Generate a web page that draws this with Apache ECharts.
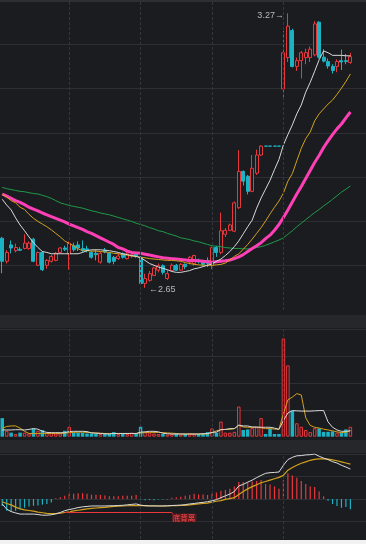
<!DOCTYPE html>
<html><head><meta charset="utf-8">
<script src="https://cdn.jsdelivr.net/npm/echarts@6/dist/echarts.min.js"></script>
<style>html,body{margin:0;padding:0;background:#1b1c20;}#c{width:366px;height:544px;}</style>
</head><body><div id="c"></div>
<script>
// ---------- data ----------
const days = ['1','2','3','4','5','6','7','8','9','10','11','12','13','14','15','16','17','18','19','20',
'21','22','23','24','25','26','27','28','29','30','31','32','33','34','35','36','37','38','39','40',
'41','42','43','44','45','46','47','48','49','50','51','52','53','54','55','56','57','58','59','60',
'61','62','63','64','65','66','67','68','69','70','71','72','73','74','75','76','77','78','79'];
// [open, close, low, high]
const ohlc = [
[2.762,2.710,2.683,2.765],[2.710,2.730,2.705,2.735],[2.747,2.740,2.728,2.757],[2.734,2.741,2.730,2.750],
[2.737,2.735,2.733,2.742],[2.739,2.751,2.737,2.771],[2.739,2.751,2.736,2.755],[2.760,2.710,2.708,2.763],
[2.701,2.730,2.699,2.732],[2.730,2.691,2.688,2.733],[2.701,2.712,2.693,2.715],[2.710,2.721,2.707,2.725],
[2.712,2.728,2.710,2.731],[2.730,2.740,2.728,2.742],[2.740,2.737,2.733,2.745],[2.727,2.751,2.691,2.755],
[2.745,2.736,2.732,2.752],[2.747,2.740,2.733,2.755],[2.739,2.735,2.730,2.757],[2.738,2.735,2.730,2.745],
[2.730,2.719,2.716,2.733],[2.728,2.725,2.712,2.735],[2.708,2.728,2.705,2.732],[2.735,2.731,2.728,2.740],
[2.728,2.708,2.705,2.731],[2.719,2.710,2.703,2.722],[2.716,2.722,2.713,2.728],[2.727,2.719,2.716,2.730],
[2.716,2.727,2.714,2.738],[2.722,2.725,2.718,2.730],[2.726,2.722,2.718,2.728],[2.719,2.660,2.657,2.722],
[2.660,2.671,2.650,2.682],[2.667,2.682,2.664,2.688],[2.678,2.695,2.677,2.698],[2.690,2.700,2.685,2.705],
[2.700,2.685,2.680,2.703],[2.671,2.682,2.668,2.690],[2.689,2.701,2.686,2.705],[2.701,2.690,2.688,2.704],
[2.690,2.703,2.688,2.706],[2.703,2.698,2.692,2.705],[2.708,2.719,2.703,2.722],[2.705,2.723,2.700,2.725],
[2.712,2.709,2.705,2.716],[2.708,2.703,2.700,2.710],[2.712,2.705,2.697,2.719],[2.700,2.741,2.692,2.743],
[2.741,2.730,2.720,2.745],[2.730,2.779,2.726,2.820],[2.771,2.780,2.765,2.785],[2.780,2.792,2.778,2.795],
[2.778,2.842,2.776,2.845],[2.831,2.913,2.828,2.961],[2.913,2.891,2.881,2.915],[2.902,2.868,2.861,2.905],
[2.868,2.920,2.866,2.950],[2.909,2.950,2.905,2.962],[2.950,2.970,2.948,2.972],[2.970,2.970,2.970,2.970],
[2.970,2.970,2.970,2.970],[2.970,2.970,2.970,2.970],[2.970,2.970,2.970,2.970],[3.099,3.181,3.080,3.230],
[3.170,3.241,3.160,3.270],[3.231,3.150,3.148,3.235],[3.150,3.163,3.140,3.170],[3.163,3.181,3.123,3.185],
[3.170,3.181,3.155,3.190],[3.170,3.189,3.160,3.195],[3.176,3.246,3.173,3.252],[3.250,3.171,3.168,3.252],
[3.171,3.162,3.159,3.189],[3.161,3.151,3.145,3.168],[3.150,3.141,3.134,3.155],[3.150,3.161,3.137,3.166],
[3.163,3.160,3.142,3.188],[3.163,3.161,3.155,3.178],[3.159,3.172,3.156,3.181]];
const ma5 = [2.850,2.837,2.826,2.808,2.792,2.779,2.765,2.752,2.741,2.732,2.730,2.727,2.727,2.727,2.727,2.727,
2.727,2.727,2.730,2.734,2.736,2.736,2.736,2.735,2.734,2.732,2.730,2.727,2.725,2.723,2.721,2.718,2.712,2.705,
2.701,2.697,2.694,2.691,2.687,2.685,2.685,2.687,2.689,2.693,2.695,2.698,2.701,2.704,2.710,2.715,2.723,2.732,
2.743,2.756,2.772,2.788,2.803,2.830,2.853,2.873,2.893,2.917,2.940,2.973,2.996,3.018,3.043,3.063,3.092,3.114,
3.139,3.165,3.185,3.181,3.175,3.175,3.175,3.174,3.174];
const ma10 = [2.861,2.855,2.847,2.842,2.832,2.827,2.816,2.807,2.800,2.794,2.788,2.781,2.773,2.765,2.756,2.750,
2.745,2.738,2.734,2.734,2.733,2.733,2.732,2.731,2.730,2.728,2.727,2.725,2.724,2.722,2.721,2.719,2.718,2.716,
2.715,2.714,2.713,2.712,2.712,2.711,2.710,2.707,2.705,2.703,2.702,2.701,2.701,2.701,2.702,2.703,2.706,2.713,
2.721,2.727,2.737,2.748,2.760,2.773,2.786,2.801,2.817,2.832,2.846,2.864,2.891,2.908,2.937,2.965,2.987,3.002,
3.027,3.043,3.054,3.065,3.074,3.087,3.101,3.116,3.133];
const ma20 = [2.862,2.857,2.852,2.847,2.843,2.838,2.832,2.828,2.824,2.819,2.815,2.811,2.807,2.803,2.799,2.794,
2.790,2.786,2.782,2.777,2.773,2.768,2.763,2.758,2.753,2.748,2.741,2.738,2.733,2.730,2.729,2.728,2.726,2.724,
2.722,2.720,2.718,2.717,2.716,2.715,2.714,2.713,2.712,2.712,2.711,2.710,2.709,2.708,2.709,2.710,2.711,2.713,
2.716,2.720,2.725,2.732,2.739,2.745,2.752,2.761,2.769,2.780,2.793,2.809,2.826,2.844,2.862,2.879,2.897,2.915,
2.933,2.949,2.967,2.982,2.996,3.009,3.020,3.034,3.047];
const ma60 = [2.877,2.874,2.872,2.870,2.868,2.867,2.865,2.863,2.862,2.859,2.856,2.852,2.847,2.842,2.839,2.836,
2.834,2.832,2.830,2.827,2.824,2.822,2.819,2.817,2.815,2.812,2.809,2.806,2.803,2.800,2.796,2.793,2.790,2.786,
2.783,2.779,2.777,2.773,2.770,2.767,2.763,2.761,2.759,2.756,2.754,2.751,2.748,2.745,2.744,2.743,2.741,2.740,
2.739,2.739,2.738,2.738,2.739,2.741,2.743,2.746,2.750,2.754,2.758,2.763,2.771,2.779,2.788,2.796,2.804,2.812,
2.820,2.827,2.835,2.842,2.850,2.858,2.866,2.873,2.880];
const volume = [0.69,0.22,0.15,0.10,0.15,0.15,0.12,0.31,0.22,0.25,0.15,0.15,0.12,0.12,0.22,0.37,0.15,0.15,0.15,0.12,
0.12,0.10,0.10,0.10,0.10,0.17,0.10,0.10,0.10,0.15,0.10,0.37,0.18,0.15,0.12,0.10,0.10,0.08,0.10,0.10,
0.08,0.10,0.12,0.10,0.10,0.12,0.17,0.31,0.15,0.56,0.15,0.15,0.18,1.12,0.25,0.27,0.32,0.35,0.69,0.10,
0.29,0.10,0.10,3.65,2.65,0.96,0.50,0.37,0.25,0.17,0.32,0.31,0.18,0.18,0.20,0.15,0.15,0.27,0.37];
const volMa5 = [0.25,0.25,0.25,0.26,0.26,0.25,0.27,0.30,0.28,0.20,0.16,0.15,0.15,0.15,0.15,0.19,0.20,0.20,0.20,0.19,
0.14,0.13,0.12,0.11,0.10,0.12,0.12,0.12,0.12,0.12,0.12,0.17,0.18,0.20,0.20,0.18,0.13,0.11,0.10,0.10,
0.10,0.10,0.10,0.10,0.10,0.11,0.12,0.16,0.17,0.26,0.27,0.30,0.30,0.43,0.40,0.40,0.36,0.36,0.35,0.35,
0.35,0.32,0.27,0.60,0.88,0.97,0.96,0.95,0.95,0.95,0.96,0.97,0.97,0.55,0.35,0.25,0.20,0.20,0.22];
const volMa10 = [0.31,0.38,0.40,0.40,0.32,0.20,0.12,0.12,0.12,0.12,0.12,0.12,0.12,0.12,0.13,0.15,0.16,0.17,0.17,0.16,
0.15,0.14,0.13,0.12,0.12,0.12,0.12,0.12,0.12,0.12,0.12,0.14,0.15,0.16,0.16,0.16,0.15,0.14,0.13,0.12,
0.10,0.10,0.10,0.10,0.10,0.10,0.10,0.15,0.22,0.26,0.27,0.27,0.30,0.42,0.36,0.35,0.35,0.35,0.33,0.30,
0.30,0.28,0.28,0.85,1.37,1.47,1.60,1.55,0.70,0.42,0.35,0.32,0.28,0.25,0.22,0.18,0.15,0.17,0.22];
const dif = [-0.22,-0.45,-0.56,-0.62,-0.67,-0.67,-0.67,-0.67,-0.69,-0.72,-0.72,-0.70,-0.66,-0.60,-0.52,-0.47,
-0.43,-0.38,-0.35,-0.33,-0.31,-0.31,-0.31,-0.31,-0.30,-0.30,-0.29,-0.28,-0.26,-0.24,-0.22,-0.27,-0.30,-0.31,
-0.31,-0.31,-0.31,-0.30,-0.29,-0.28,-0.27,-0.25,-0.22,-0.20,-0.17,-0.15,-0.12,-0.08,-0.03,0.06,0.14,0.22,
0.33,0.58,0.65,0.75,0.84,0.95,1.05,1.14,1.17,1.18,1.20,1.50,1.75,1.85,1.92,1.93,1.96,1.97,2.00,1.90,1.82,
1.75,1.66,1.60,1.50,1.42,1.33];
const dea = [-0.12,-0.20,-0.26,-0.36,-0.44,-0.48,-0.51,-0.54,-0.58,-0.61,-0.64,-0.65,-0.65,-0.63,-0.60,-0.57,
-0.53,-0.50,-0.47,-0.44,-0.42,-0.40,-0.38,-0.37,-0.35,-0.33,-0.32,-0.31,-0.30,-0.29,-0.29,-0.29,-0.29,-0.30,
-0.30,-0.31,-0.31,-0.31,-0.30,-0.30,-0.29,-0.28,-0.26,-0.24,-0.22,-0.20,-0.18,-0.14,-0.10,-0.07,-0.02,0.02,
0.06,0.20,0.33,0.45,0.55,0.63,0.72,0.78,0.84,0.90,0.96,1.05,1.28,1.40,1.50,1.59,1.65,1.72,1.76,1.78,1.78,
1.77,1.74,1.70,1.65,1.60,1.55];
const macdHist = [-0.31,-0.52,-0.56,-0.52,-0.44,-0.39,-0.33,-0.30,-0.29,-0.25,-0.22,-0.15,0.03,0.08,0.15,0.23,
0.23,0.26,0.26,0.23,0.19,0.19,0.18,0.16,0.12,0.12,0.12,0.15,0.15,0.15,0.18,-0.02,-0.05,-0.05,-0.05,-0.02,
-0.02,-0.02,0.06,0.08,0.10,0.15,0.18,0.23,0.20,0.20,0.18,0.23,0.29,0.37,0.40,0.46,0.56,0.76,0.76,0.73,0.78,
0.80,0.84,0.67,0.64,0.56,0.46,0.84,1.14,1.05,0.94,0.80,0.67,0.56,0.53,0.33,0.12,-0.08,-0.22,-0.31,-0.39,-0.35,-0.45];
const monthStarts = [15, 31, 47, 63];
const divergence = { from: 14, to: 38, level: -0.61, drop: -0.78, labelAt: -0.84, text: '底背离' };

// ---------- style ----------
const BG = '#1b1c20', RED = '#e8383c', CYAN = '#1bb3c4', GRID = '#2e2f34', DASH = '#35363c', BAND = '#26272b';
const LEFT = -0.75, WIDTH = 369;
const axisCats = days.concat(['', '', '']);

const candleData = ohlc.map(d => {
  const flat = d[0] === d[1] && d[2] === d[3];
  return flat ? { value: d, itemStyle: { color: CYAN, color0: CYAN, borderColor: CYAN, borderColor0: CYAN } } : d;
});
const isUp = ohlc.map(d => d[1] > d[0]);
const volData = volume.map((v, i) => ({
  value: v,
  itemStyle: isUp[i] ? { color: BG, borderColor: RED, borderWidth: 1 } : { color: CYAN, borderColor: CYAN, borderWidth: 0 }
}));
const histData = macdHist.map(v => ({ value: v, itemStyle: { color: v >= 0 ? RED : CYAN } }));

let hiIdx = 0, loIdx = 0;
ohlc.forEach((d, i) => { if (d[3] > ohlc[hiIdx][3]) hiIdx = i; if (d[2] < ohlc[loIdx][2]) loIdx = i; });

const vLines = () => ({
  silent: true, symbol: ['none', 'none'], label: { show: false },
  lineStyle: { color: DASH, type: [3, 2], width: 1 },
  data: monthStarts.map(i => ({ xAxis: i }))
});
const lineS = (data, color, width, xi) => ({
  type: 'line', data, xAxisIndex: xi, yAxisIndex: xi, symbol: 'none', silent: true,
  lineStyle: { color, width }, z: 3
});
const xAx = (gi) => ({
  type: 'category', gridIndex: gi, data: axisCats, boundaryGap: true,
  axisLine: { show: false }, axisTick: { show: false }, axisLabel: { show: false }, splitLine: { show: false }
});
const yAx = (gi, min, max, interval) => ({
  type: 'value', gridIndex: gi, min, max, interval,
  axisLine: { show: false }, axisTick: { show: false }, axisLabel: { show: false },
  splitLine: { show: true, showMinLine: false, lineStyle: { color: GRID, width: 1 } }
});

const chart = echarts.init(document.getElementById('c'), null, { renderer: 'canvas' });
chart.setOption({
  backgroundColor: BG,
  animation: false,
  grid: [
    { left: LEFT, width: WIDTH, top: -3.2, height: 313.2 },
    { left: LEFT, width: WIDTH, top: 329, height: 107.7 },
    { left: LEFT, width: WIDTH, top: 454, height: 98 }
  ],
  xAxis: [xAx(0), xAx(1), xAx(2)],
  yAxis: [yAx(0, 2.6, 3.3, 0.1), yAx(1, 0, 4, 1), yAx(2, -2, 2, 1)],
  graphic: [
    { type: 'rect', shape: { x: 0, y: 315, width: 366, height: 13 }, style: { fill: BAND }, silent: true, z: -1 },
    { type: 'rect', shape: { x: 0, y: 440, width: 366, height: 13 }, style: { fill: BAND }, silent: true, z: -1 },
    { type: 'line', shape: { x1: 0, y1: 1.5, x2: 366, y2: 1.5 }, style: { stroke: GRID, lineWidth: 1 }, silent: true },
    { type: 'rect', shape: { x: 0, y: 540, width: 366, height: 4 }, style: { fill: '#f2f2f2' }, silent: true, z: 100 }
  ],
  series: [
    {
      type: 'candlestick', data: candleData, xAxisIndex: 0, yAxisIndex: 0, barWidth: 3.5, silent: true, z: 2,
      itemStyle: { color: BG, color0: CYAN, borderColor: RED, borderColor0: CYAN, borderWidth: 1 },
      markLine: vLines(),
      markPoint: {
        silent: true, symbol: 'circle', symbolSize: 0,
        data: [
          { coord: [hiIdx, ohlc[hiIdx][3]], label: { show: true, position: 'left', distance: 4, offset: [0, 2],
            formatter: ohlc[hiIdx][3].toFixed(2) + '→', color: '#b8b8bc', fontSize: 9, fontFamily: 'Liberation Sans, DejaVu Sans' } },
          { coord: [loIdx, ohlc[loIdx][2]], label: { show: true, position: 'right', distance: 4, offset: [0, 2],
            formatter: '←' + ohlc[loIdx][2].toFixed(2), color: '#b8b8bc', fontSize: 9, fontFamily: 'Liberation Sans, DejaVu Sans' } }
        ]
      }
    },
    lineS(ma60, '#1f9a48', 1, 0),
    lineS(ma20, '#ff3fb6', 3, 0),
    lineS(ma10, '#d2a11c', 1, 0),
    lineS(ma5, '#d8d8d8', 1, 0),
    { type: 'bar', data: volData, xAxisIndex: 1, yAxisIndex: 1, barWidth: 3.5, silent: true, markLine: vLines() },
    lineS(volMa10, '#d2a11c', 1, 1),
    lineS(volMa5, '#d8d8d8', 1, 1),
    { type: 'bar', data: histData, xAxisIndex: 2, yAxisIndex: 2, barWidth: 1.2, silent: true, markLine: vLines() },
    lineS(dea, '#d2a11c', 1.2, 2),
    Object.assign(lineS(dif, '#dcdcdc', 1, 2), {
      markLine: {
        silent: true, symbol: ['none', 'none'], label: { show: false },
        lineStyle: { color: RED, type: 'solid', width: 1 },
        data: [
          [{ coord: [divergence.from, divergence.level] }, { coord: [divergence.to, divergence.level] }],
          [{ coord: [divergence.to, divergence.level] }, { coord: [divergence.to, divergence.drop] }]
        ]
      },
      markPoint: {
        silent: true, symbol: 'circle', symbolSize: 0,
        data: [{ coord: [divergence.to, divergence.labelAt],
          label: { show: true, position: 'right', distance: 0, formatter: divergence.text,
            color: '#ff4a4a', backgroundColor: '#5a1c20', padding: [1, 1, 0, 1],
            fontSize: 7.5, fontFamily: 'Noto Sans CJK SC' } }]
      }
    })
  ]
});
</script></body></html>
